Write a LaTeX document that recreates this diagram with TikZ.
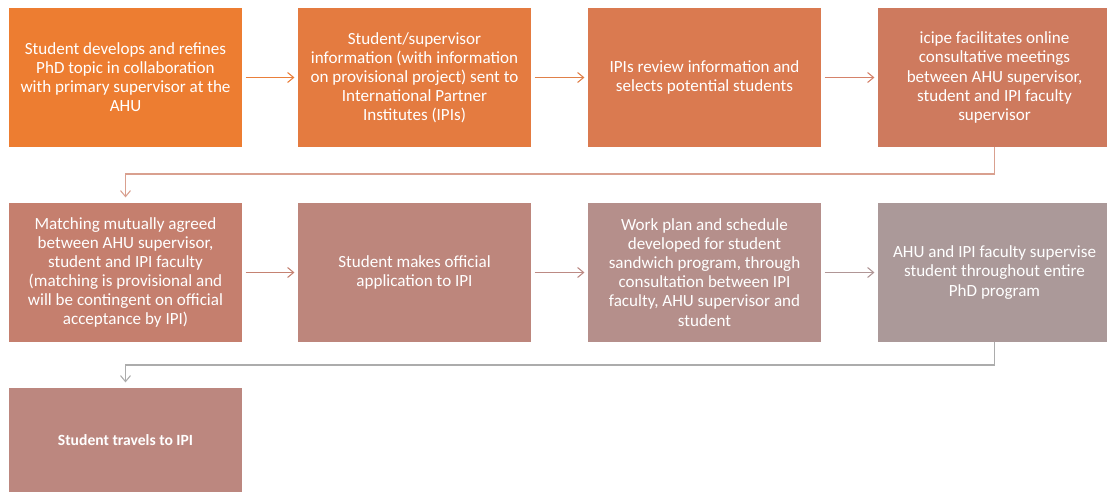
\documentclass[tikz,border=0pt]{standalone}
\usepackage{fontspec}
\setmainfont{Carlito}
\usetikzlibrary{arrows.meta}
\definecolor{c1}{HTML}{ED7D31}
\definecolor{c2}{HTML}{E47B40}
\definecolor{c3}{HTML}{DA7A50}
\definecolor{c4}{HTML}{CE7A5E}
\definecolor{c5}{HTML}{C57F6E}
\definecolor{c6}{HTML}{BD867C}
\definecolor{c7}{HTML}{B58F8B}
\definecolor{c8}{HTML}{AB9999}
\definecolor{c9}{HTML}{BC877F}
\definecolor{a1}{HTML}{EA7F3A}
\definecolor{a2}{HTML}{E08049}
\definecolor{a3}{HTML}{D5826A}
\definecolor{a5}{HTML}{C58272}
\definecolor{a6}{HTML}{BC8A84}
\definecolor{a7}{HTML}{B09696}
\definecolor{k1}{HTML}{D9A08F}
\definecolor{k2}{HTML}{ACACAC}
\tikzset{
  box/.style={minimum width=174.75pt, minimum height=104.25pt, inner sep=0pt,
    align=center, text=white, font=\fontsize{12.8}{14.3}\selectfont},
  arr/.style={line width=0.8pt, -{Straight Barb[length=4.5pt,width=7.5pt,line width=0.8pt]},
    shorten >=2.5pt, shorten <=2.5pt},
}
\begin{document}
\begin{tikzpicture}[x=0.75pt,y=-0.75pt]
\useasboundingbox (0,0) rectangle (1107,492);
\clip (0,0) rectangle (1107,492);
\node[box, fill=c1] (b1) at (125.5,77.5) {Student develops and refines\\PhD topic in collaboration\\with primary supervisor at the\\AHU};
\node[box, fill=c2] (b2) at (414.5,77.5) {Student/supervisor\\information (with information\\on provisional project) sent to\\International Partner\\Institutes (IPIs)};
\node[box, fill=c3] (b3) at (704.5,77.5) {IPIs review information and\\selects potential students};
\node[box, fill=c4] (b4) at (994.5,77.5) {icipe facilitates online\\consultative meetings\\between AHU supervisor,\\student and IPI faculty\\supervisor};
\node[box, fill=c5] (b5) at (125.5,272.5) {Matching mutually agreed\\between AHU supervisor,\\student and IPI faculty\\(matching is provisional and\\will be contingent on official\\acceptance by IPI)};
\node[box, fill=c6] (b6) at (414.5,272.5) {Student makes official\\application to IPI};
\node[box, fill=c7] (b7) at (704.5,272.5) {Work plan and schedule\\developed for student\\sandwich program, through\\consultation between IPI\\faculty, AHU supervisor and\\student};
\node[box, fill=c8] (b8) at (994.5,272.5) {AHU and IPI faculty supervise\\student throughout entire\\PhD program};
\node[box, fill=c9, minimum height=78pt, font=\bfseries\fontsize{11.7}{13}\selectfont] (b9) at (125.5,440) {Student travels to IPI};
\coordinate (m1) at (0,174);
\coordinate (m2) at (0,365);
\draw[arr, a1] (b1) -- (b2);
\draw[arr, a2] (b2) -- (b3);
\draw[arr, a3] (b3) -- (b4);
\draw[arr, a5] (b5) -- (b6);
\draw[arr, a6] (b6) -- (b7);
\draw[arr, a7] (b7) -- (b8);
\draw[arr, k1, shorten <=0pt, shorten >=4pt] (b4.south) -- (b4.south |- m1) -| (b5.north);
\draw[arr, k2, shorten <=0pt, shorten >=4pt] (b8.south) -- (b8.south |- m2) -| (b9.north);
\end{tikzpicture}
\end{document}
